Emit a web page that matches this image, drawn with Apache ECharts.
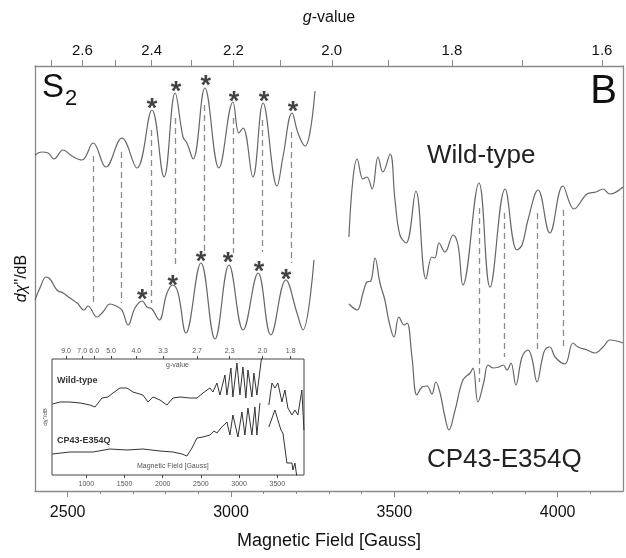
<!DOCTYPE html>
<html>
<head>
<meta charset="utf-8">
<script src="https://cdn.jsdelivr.net/npm/echarts@6/dist/echarts.min.js"></script>
<style>
html, body { margin: 0; padding: 0; background: #fff; }
#chart { width: 626px; height: 558px; }
</style>
</head>
<body>
<div id="chart"></div>
<script>
// field (G) -> g-value constant (h*nu/muB, about 9.26 GHz)
const G_CONST = 6617;

// main spectra, [field in Gauss, signal in arbitrary units]
const wtLeft = [
	[2400, 336], [2420, 339], [2440, 338], [2458, 332], [2486, 341], [2513, 335], [2544, 331],
	[2578, 348], [2617, 324], [2666, 353], [2712, 323], [2758, 381], [2795, 314], [2829, 398],
	[2853, 354], [2865, 348], [2884, 332], [2920, 403], [2963, 323], [3006, 389], [3024, 358],
	[3037, 363], [3067, 314], [3098, 388], [3141, 305], [3159, 334], [3187, 378], [3205, 358],
	[3227, 345], [3242, 359], [3257, 400]
];
const wtRight = [
	[3361, 254], [3373, 311], [3386, 332], [3404, 312], [3416, 314], [3432, 302], [3450, 334],
	[3465, 319], [3487, 337], [3502, 291], [3517, 256], [3536, 248], [3566, 300], [3597, 212],
	[3615, 234], [3624, 233], [3637, 248], [3655, 239], [3680, 256], [3695, 246], [3710, 206],
	[3759, 308], [3793, 204], [3839, 302], [3875, 241], [3891, 246], [3909, 271], [3940, 301],
	[3976, 258], [4016, 305], [4050, 282], [4090, 297], [4117, 299], [4139, 302], [4160, 297],
	[4200, 304]
];
const cpLeft = [
	[2400, 191], [2415, 203], [2434, 214], [2446, 212], [2467, 201], [2486, 198], [2507, 193],
	[2529, 188], [2550, 181], [2562, 185], [2590, 174], [2608, 179], [2630, 187], [2648, 185],
	[2666, 181], [2685, 166], [2706, 183], [2728, 190], [2743, 184], [2758, 182], [2780, 171],
	[2804, 198], [2822, 206], [2838, 198], [2862, 158], [2908, 228], [2951, 152], [2994, 226],
	[3037, 161], [3083, 218], [3122, 156], [3168, 211], [3202, 178], [3220, 161], [3254, 231]
];
const cpRight = [
	[3361, 187], [3386, 181], [3404, 198], [3416, 209], [3428, 210], [3441, 233], [3456, 208],
	[3471, 191], [3484, 169], [3499, 154], [3514, 174], [3530, 166], [3539, 168], [3554, 134],
	[3569, 96], [3585, 104], [3600, 105], [3615, 97], [3627, 109], [3640, 98], [3655, 74],
	[3667, 61], [3686, 81], [3710, 111], [3732, 118], [3741, 123], [3756, 89], [3774, 109],
	[3787, 126], [3802, 123], [3820, 124], [3833, 126], [3845, 121], [3857, 128], [3872, 106],
	[3891, 134], [3909, 141], [3921, 133], [3937, 109], [3952, 131], [3961, 141], [3976, 144],
	[3992, 134], [4022, 127], [4047, 148], [4062, 144], [4090, 141], [4114, 138], [4139, 144],
	[4160, 151], [4181, 150], [4200, 148]
];

// dashed guide lines linking the two spectra
const dashField = [2578, 2663, 2755, 2829, 2917, 3006, 3095, 3184, 3759, 3836, 3937, 4016];
const dashTop = [335, 339, 361, 373, 386, 373, 371, 359, 283, 278, 278, 281];
const dashBottom = [189, 188, 188, 226, 238, 238, 239, 228, 109, 134, 141, 144];

// asterisks over the multiline peaks
const starWtField = [2758, 2832, 2923, 3009, 3101, 3190];
const starWtSignal = [389, 406, 412, 396, 396, 386];
const starCpField = [2728, 2822, 2908, 2991, 3086, 3168];
const starCpSignal = [198, 212, 236, 235, 226, 218];

// inset: full sweep
const insetWt = [
	[555, 71], [655, 73], [786, 73], [917, 72], [1047, 70], [1113, 68], [1205, 77], [1283, 78],
	[1348, 82], [1440, 87], [1532, 87], [1610, 83], [1741, 80], [1807, 73], [1872, 78], [1964, 75],
	[2055, 70], [2134, 77], [2226, 78], [2356, 77], [2448, 77], [2527, 82], [2618, 87], [2657, 83],
	[2710, 92], [2749, 80], [2815, 100], [2841, 80], [2893, 107], [2919, 78], [2972, 112],
	[3011, 80], [3050, 108], [3089, 77], [3116, 105], [3168, 78], [3194, 102], [3233, 80], [3299, 120]
];
const insetWtRight = [
	[3390, 70], [3430, 92], [3469, 87], [3508, 92], [3561, 73], [3600, 85], [3639, 67], [3692, 60],
	[3731, 65], [3770, 60], [3822, 85], [3849, 45]
];
const insetCp = [
	[555, 21], [786, 23], [1087, 23], [1309, 26], [1532, 25], [1741, 26], [1964, 24], [2134, 23],
	[2252, 21], [2317, 19], [2383, 27], [2448, 37], [2527, 38], [2618, 40], [2671, 44], [2710, 42],
	[2762, 47], [2841, 53], [2880, 40], [2919, 60], [2985, 38], [3037, 63], [3076, 40], [3116, 67],
	[3168, 40], [3207, 68], [3233, 40], [3273, 72]
];
const insetCpRight = [
	[3390, 48], [3469, 65], [3508, 55], [3548, 45], [3574, 42], [3626, 12], [3692, 12], [3705, 5],
	[3731, 12], [3757, -2]
];

// axis ticks
const fieldLabels = [2500, 3000, 3500, 4000];
const fieldMinor = [2500, 2600, 2700, 2800, 2900, 3000, 3100, 3200, 3300, 3400, 3500, 3600, 3700, 3800, 3900, 4000, 4100];
const gTicks = [2.7, 2.6, 2.5, 2.4, 2.3, 2.2, 2.1, 2.0, 1.9, 1.8, 1.7, 1.6];
const gLabels = [2.6, 2.4, 2.2, 2.0, 1.8, 1.6];
const insetFieldLabels = [1000, 1500, 2000, 2500, 3000, 3500];
const insetGLabels = [9.0, 7.0, 6.0, 5.0, 4.0, 3.3, 2.7, 2.3, 2.0, 1.8];

const FONT = 'Liberation Sans';
const axisGray = '#8a8a8a';
const traceGray = '#666';

function gToField(g) {
	return G_CONST / g;
}
function fieldToG(v) {
	return (G_CONST / v).toFixed(1);
}
function plain(v) {
	return String(Math.round(v));
}

let chart = echarts.init(document.getElementById('chart'));

let dashLines = [];
for (let i = 0; i < dashField.length; i++) {
	dashLines.push([{
		coord: [dashField[i], dashTop[i]]
	}, {
		coord: [dashField[i], dashBottom[i]]
	}]);
}

function starData(xs, ys) {
	let out = [];
	for (let i = 0; i < xs.length; i++) out.push([xs[i], ys[i]]);
	return out;
}

function trace(data, x, y, color, width, smooth) {
	return {
		type: 'line',
		xAxisIndex: x,
		yAxisIndex: y,
		data: data,
		smooth: smooth,
		symbol: 'none',
		silent: true,
		lineStyle: {
			color: color,
			width: width
		}
	};
}

function stars(data) {
	return {
		type: 'scatter',
		xAxisIndex: 0,
		yAxisIndex: 0,
		data: data,
		symbolSize: 1,
		itemStyle: {
			color: 'rgba(0,0,0,0)'
		},
		label: {
			show: true,
			position: 'inside',
			formatter: '*',
			fontFamily: FONT,
			fontWeight: 'bold',
			fontSize: 27,
			color: '#111',
			offset: [0, 8]
		},
		z: 5
	};
}

let wtLeftSeries = trace(wtLeft, 0, 0, traceGray, 1.2, 0.4);
wtLeftSeries.markLine = {
	silent: true,
	symbol: 'none',
	label: {
		show: false
	},
	lineStyle: {
		color: '#8a8a8a',
		type: [6, 4],
		width: 1.3
	},
	data: dashLines
};

let option = {
	animation: false,
	backgroundColor: '#fff',
	textStyle: {
		fontFamily: FONT
	},
	grid: [{
		left: 35,
		top: 66,
		right: 3,
		bottom: 67
	}, {
		left: 52,
		top: 359,
		width: 252,
		height: 116,
		show: true,
		backgroundColor: '#fff',
		borderColor: '#444',
		borderWidth: 1
	}],
	xAxis: [{
		type: 'value',
		gridIndex: 0,
		position: 'bottom',
		min: 2400,
		max: 4200,
		name: 'Magnetic Field [Gauss]',
		nameLocation: 'middle',
		nameGap: 41,
		nameTextStyle: {
			fontSize: 18,
			color: '#111'
		},
		axisLine: {
			lineStyle: {
				color: axisGray,
				width: 1.3
			}
		},
		axisTick: {
			length: 6,
			customValues: fieldLabels,
			lineStyle: {
				color: axisGray
			}
		},
		axisLabel: {
			customValues: fieldLabels,
			formatter: plain,
			fontSize: 16,
			color: '#111',
			margin: 14
		},
		splitLine: {
			show: false
		}
	}, {
		type: 'value',
		gridIndex: 0,
		position: 'bottom',
		min: 2400,
		max: 4200,
		axisLine: {
			show: false
		},
		axisTick: {
			length: 3,
			customValues: fieldMinor,
			lineStyle: {
				color: axisGray
			}
		},
		axisLabel: {
			show: false
		},
		splitLine: {
			show: false
		}
	}, {
		type: 'value',
		gridIndex: 0,
		position: 'top',
		min: 2400,
		max: 4200,
		name: '{i|g}-value',
		nameLocation: 'middle',
		nameGap: 40,
		nameTextStyle: {
			fontSize: 16,
			color: '#111',
			rich: {
				i: {
					fontStyle: 'italic',
					fontSize: 16,
					color: '#111'
				}
			}
		},
		axisLine: {
			lineStyle: {
				color: axisGray,
				width: 1.3
			}
		},
		axisTick: {
			length: 6,
			customValues: gTicks.map(gToField),
			lineStyle: {
				color: axisGray
			}
		},
		axisLabel: {
			customValues: gLabels.map(gToField),
			formatter: fieldToG,
			fontSize: 15,
			color: '#111',
			margin: 8
		},
		splitLine: {
			show: false
		}
	}, {
		type: 'value',
		gridIndex: 1,
		position: 'bottom',
		min: 550,
		max: 3850,
		axisLine: {
			show: false
		},
		axisTick: {
			length: 3,
			customValues: insetFieldLabels,
			lineStyle: {
				color: '#444'
			}
		},
		axisLabel: {
			customValues: insetFieldLabels,
			formatter: plain,
			fontSize: 7,
			color: '#555',
			margin: 6
		},
		splitLine: {
			show: false
		}
	}, {
		type: 'value',
		gridIndex: 1,
		position: 'top',
		min: 550,
		max: 3850,
		axisLine: {
			show: false
		},
		axisTick: {
			length: 3,
			customValues: insetGLabels.map(gToField),
			lineStyle: {
				color: '#444'
			}
		},
		axisLabel: {
			customValues: insetGLabels.map(gToField),
			formatter: fieldToG,
			fontSize: 7,
			color: '#555',
			margin: 4
		},
		splitLine: {
			show: false
		}
	}],
	yAxis: [{
		type: 'value',
		gridIndex: 0,
		position: 'left',
		min: 0,
		max: 425,
		name: '{i|dχ}"/dB',
		nameLocation: 'middle',
		nameRotate: 90,
		nameGap: 5,
		nameTextStyle: {
			fontSize: 16,
			color: '#111',
			rich: {
				i: {
					fontStyle: 'italic',
					fontSize: 16,
					color: '#111'
				}
			}
		},
		axisLine: {
			show: true,
			lineStyle: {
				color: axisGray,
				width: 1.3
			}
		},
		axisTick: {
			show: false
		},
		axisLabel: {
			show: false
		},
		splitLine: {
			show: false
		}
	}, {
		type: 'value',
		gridIndex: 0,
		position: 'right',
		min: 0,
		max: 425,
		axisLine: {
			show: true,
			lineStyle: {
				color: axisGray,
				width: 1.3
			}
		},
		axisTick: {
			show: false
		},
		axisLabel: {
			show: false
		},
		splitLine: {
			show: false
		}
	}, {
		type: 'value',
		gridIndex: 1,
		min: 0,
		max: 116,
		name: 'dχ"/dB',
		nameLocation: 'middle',
		nameRotate: 90,
		nameGap: 4,
		nameTextStyle: {
			fontSize: 6,
			color: '#555'
		},
		axisLine: {
			show: false
		},
		axisTick: {
			show: false
		},
		axisLabel: {
			show: false
		},
		splitLine: {
			show: false
		}
	}],
	graphic: [{
		type: 'text',
		left: 42,
		top: 71,
		style: {
			text: 'S',
			font: '33px "Liberation Sans"',
			fill: '#111'
		}
	}, {
		type: 'text',
		left: 65,
		top: 88,
		style: {
			text: '2',
			font: '22px "Liberation Sans"',
			fill: '#111'
		}
	}, {
		type: 'text',
		right: 9,
		top: 72,
		style: {
			text: 'B',
			font: '40px "Liberation Sans"',
			fill: '#111'
		}
	}, {
		type: 'text',
		left: 427,
		top: 143,
		style: {
			text: 'Wild-type',
			font: '26px "Liberation Sans"',
			fill: '#222'
		}
	}, {
		type: 'text',
		left: 427,
		top: 447,
		style: {
			text: 'CP43-E354Q',
			font: '26px "Liberation Sans"',
			fill: '#222'
		}
	}, {
		type: 'text',
		left: 57,
		top: 376,
		z: 10,
		style: {
			text: 'Wild-type',
			font: 'bold 9px "Liberation Sans"',
			fill: '#333'
		}
	}, {
		type: 'text',
		left: 57,
		top: 436,
		z: 10,
		style: {
			text: 'CP43-E354Q',
			font: 'bold 9px "Liberation Sans"',
			fill: '#333'
		}
	}, {
		type: 'text',
		left: 166,
		top: 362,
		z: 10,
		style: {
			text: 'g-value',
			font: '7px "Liberation Sans"',
			fill: '#555'
		}
	}, {
		type: 'text',
		left: 137,
		top: 463,
		z: 10,
		style: {
			text: 'Magnetic Field [Gauss]',
			font: '7px "Liberation Sans"',
			fill: '#555'
		}
	}],
	series: [
		wtLeftSeries,
		trace(wtRight, 0, 0, traceGray, 1.2, 0.4),
		trace(cpLeft, 0, 0, traceGray, 1.2, 0.4),
		trace(cpRight, 0, 0, traceGray, 1.2, 0.4),
		stars(starData(starWtField, starWtSignal)),
		stars(starData(starCpField, starCpSignal)),
		trace(insetWt, 3, 2, '#333', 1, false),
		trace(insetWtRight, 3, 2, '#333', 1, false),
		trace(insetCp, 3, 2, '#333', 1, false),
		trace(insetCpRight, 3, 2, '#333', 1, false)
	]
};

chart.setOption(option);
</script>
</body>
</html>
